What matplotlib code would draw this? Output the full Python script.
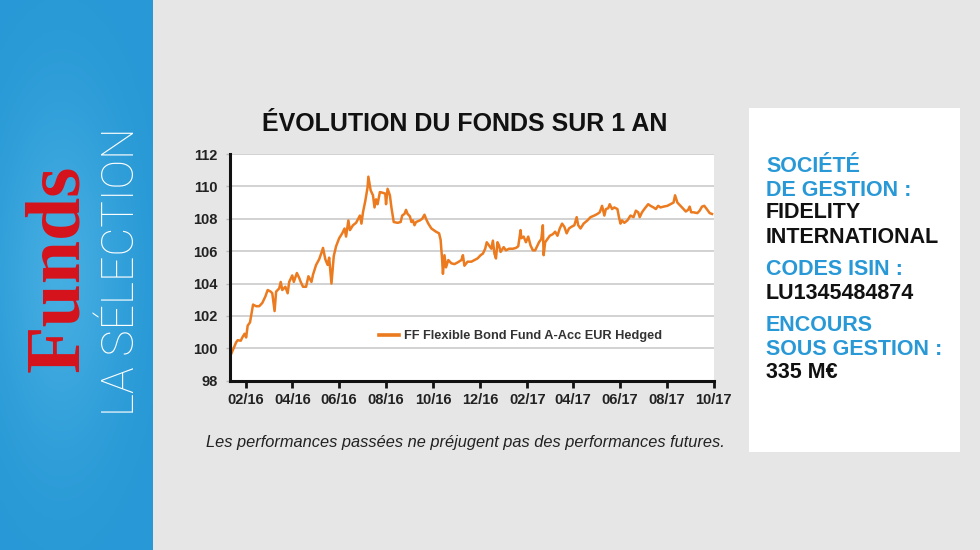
import numpy as np
import pandas as pd
import matplotlib
matplotlib.use("Agg")
import matplotlib.pyplot as plt
import matplotlib.dates as mdates
from matplotlib.patches import Rectangle
from matplotlib.colors import LinearSegmentedColormap

# data: days after 2016-01-11 and fund value
start = pd.Timestamp("2016-01-11")
day_offsets = [
    2, 8, 10, 14, 16, 19, 21, 23, 26, 29, 30, 34, 38, 42, 46, 49, 53, 55, 58, 60,
    64, 66, 68, 72, 75, 77, 81, 83, 87, 90, 92, 95, 99, 102, 106, 108, 112, 116, 119, 121,
    124, 127, 129, 132, 135, 138, 142, 146, 149, 151, 154, 156, 160, 164, 169, 171, 173, 176, 179, 180,
    183, 186, 188, 190, 192, 195, 199, 202, 203, 205, 208, 210, 213, 218, 222, 224, 227, 229, 231, 234,
    236, 238, 240, 242, 247, 250, 253, 255, 258, 262, 265, 268, 272, 274, 276, 277, 279, 281, 284, 288,
    292, 296, 301, 303, 305, 309, 314, 318, 322, 326, 329, 332, 334, 337, 340, 342, 344, 346, 348, 350,
    352, 356, 359, 363, 368, 372, 375, 378, 379, 382, 385, 388, 391, 394, 397, 400, 402, 405, 407, 408,
    410, 413, 416, 420, 423, 426, 429, 432, 435, 438, 441, 444, 448, 451, 453, 456, 460, 465, 469, 474,
    478, 481, 484, 487, 489, 492, 494, 497, 500, 504, 506, 508, 510, 513, 517, 521, 525, 528, 531, 533,
    536, 539, 544, 547, 551, 554, 557, 560, 564, 569, 573, 577, 579, 582, 586, 590, 593, 596, 598, 600,
    603, 608, 611, 614, 617, 621, 624, 627,
]
fund_values = [
    99.7, 100.37, 100.5, 100.47, 100.67, 100.9, 100.67, 101.4, 101.6, 102.4, 102.7, 102.6, 102.6, 102.8, 103.2, 103.6, 103.5, 103.4, 102.3, 103.5,
    103.7, 104.1, 103.6, 103.8, 103.4, 104.1, 104.5, 104.1, 104.65, 104.35, 104.1, 103.8, 103.8, 104.45, 104.1, 104.55, 105.15, 105.5, 105.9, 106.2,
    105.5, 105.15, 105.6, 104.0, 105.7, 106.3, 106.8, 107.1, 107.4, 106.9, 107.9, 107.3, 107.6, 107.75, 108.2, 107.7, 108.4, 109.1, 109.95, 110.6,
    109.75, 109.45, 108.7, 109.2, 108.9, 109.65, 109.6, 109.55, 108.9, 109.85, 109.45, 108.7, 107.8, 107.75, 107.8, 108.2, 108.3, 108.55, 108.3, 108.15,
    107.8, 107.9, 107.6, 107.8, 107.9, 108.0, 108.25, 108.0, 107.7, 107.4, 107.3, 107.2, 107.1, 106.7, 105.45, 104.6, 105.75, 105.0, 105.45, 105.25,
    105.2, 105.3, 105.45, 105.75, 105.1, 105.35, 105.35, 105.45, 105.55, 105.75, 105.85, 106.15, 106.55, 106.35, 106.15, 106.65, 105.85, 105.55, 106.55, 106.35,
    105.95, 106.25, 106.05, 106.15, 106.15, 106.2, 106.3, 107.3, 106.8, 106.9, 106.55, 106.9, 106.35, 106.05, 106.05, 106.35, 106.55, 106.75, 107.6, 105.75,
    106.55, 106.75, 106.95, 107.05, 107.2, 106.95, 107.4, 107.7, 107.5, 107.1, 107.4, 107.5, 107.6, 108.1, 107.6, 107.4, 107.7, 107.9, 108.1, 108.2,
    108.3, 108.4, 108.8, 108.2, 108.6, 108.65, 108.9, 108.6, 108.7, 108.6, 108.1, 107.7, 107.9, 107.75, 107.9, 108.2, 108.1, 108.5, 108.4, 108.1,
    108.4, 108.6, 108.9, 108.8, 108.7, 108.6, 108.8, 108.7, 108.75, 108.8, 108.9, 109.0, 109.45, 109.0, 108.8, 108.6, 108.45, 108.55, 108.75, 108.4,
    108.4, 108.35, 108.5, 108.75, 108.8, 108.55, 108.35, 108.3,
]
y_ticks = [98, 100, 102, 104, 106, 108, 110, 112]
series_name = "FF Flexible Bond Fund A-Acc EUR Hedged"

info_lines = [
    ("SOCIÉTÉ", "blue"), ("DE GESTION :", "blue"),
    ("FIDELITY", "black"), ("INTERNATIONAL", "black"),
    ("CODES ISIN :", "blue"), ("LU1345484874", "black"),
    ("ENCOURS", "blue"), ("SOUS GESTION :", "blue"), ("335 M€", "black"),
]
info_baselines = [171.7, 195.7, 218.3, 242.7, 275, 299.3, 331, 355, 378.3]

BLUE = "#2899d6"
ORANGE = "#ec7a1e"
SANS = ["Liberation Sans", "DejaVu Sans"]

W, H = 980, 550
fig = plt.figure(figsize=(9.8, 5.5), dpi=100, facecolor="#e6e6e6")

# left blue band with a soft glow behind the logo
band = fig.add_axes([0, 0, 152 / W, 1])
gx, gy = np.meshgrid(np.linspace(0, 1, 60), np.linspace(0, 1, 200))
glow = np.exp(-(((gx - 0.4) / 0.4) ** 2 + ((gy - 0.5) / 0.3) ** 2))
band_cmap = LinearSegmentedColormap.from_list("band", [BLUE, "#44ade1"])
band.imshow(glow, cmap=band_cmap, aspect="auto", extent=[0, 1, 0, 1])
band.axis("off")

fig.text(60 / W, 1 - 268 / H, "Funds", rotation=90, ha="center", va="center",
         family=["Liberation Serif", "DejaVu Serif"], fontweight="bold", fontsize=56, color="#d6121b")
fig.text(122 / W, 1 - 272 / H, "LA SÉLECTION", rotation=90, ha="center", va="center",
         family=["Roboto", "Lato", "DejaVu Sans"], fontweight="light", fontsize=32, color="white")

# white info box
fig.patches.append(Rectangle((749 / W, 1 - 451.7 / H), (960 - 749) / W, (451.7 - 108.3) / H,
                             transform=fig.transFigure, facecolor="white", edgecolor="none"))
for (txt, col), base in zip(info_lines, info_baselines):
    fig.text(766 / W, 1 - base / H, txt, ha="left", va="baseline", family=SANS,
             fontweight="bold", fontsize=15.5, color=BLUE if col == "blue" else "#111111")

# chart
fig.text(465 / W, 1 - 124 / H, "ÉVOLUTION DU FONDS SUR 1 AN", ha="center", va="center",
         family=SANS, fontweight="bold", fontsize=18, color="#111111")

ax = fig.add_axes([230 / W, 1 - 380.7 / H, (713.5 - 230) / W, (380.7 - 154) / H])
ax.set_facecolor("white")
dates = start + pd.to_timedelta(day_offsets, unit="D")
ax.plot(dates, fund_values, color=ORANGE, lw=1.8, label=series_name)

ax.set_xlim(start, pd.Timestamp("2017-10-01"))
ax.set_ylim(98, 112)
ax.set_yticks(y_ticks)
ax.grid(axis="y", color="#cfcfcf", lw=1.3)
ax.set_axisbelow(True)
ax.xaxis.set_major_locator(mdates.MonthLocator(bymonth=[2, 4, 6, 8, 10, 12]))
ax.xaxis.set_major_formatter(mdates.DateFormatter("%m/%y"))

for side in ["top", "right"]:
    ax.spines[side].set_visible(False)
for side in ["left", "bottom"]:
    ax.spines[side].set_linewidth(2.2)
    ax.spines[side].set_color("#111111")
ax.tick_params(axis="x", length=5, width=2, color="#111111", pad=4)
ax.tick_params(axis="y", length=3, width=1, color="#bbbbbb", pad=6)
for lab in ax.get_xticklabels() + ax.get_yticklabels():
    lab.set_family(SANS)
    lab.set_fontweight("bold")
    lab.set_fontsize(10.5)
    lab.set_color("#222222")

leg = ax.legend(loc="center left", bbox_to_anchor=((379 - 230) / 483.5, 0.197), frameon=False,
                borderpad=0, borderaxespad=0, handlelength=1.6, handletextpad=0.35,
                prop={"family": SANS, "weight": "bold", "size": 9.2})
for t in leg.get_texts():
    t.set_color("#333333")
for h in leg.get_lines():
    h.set_linewidth(2.6)

fig.text(465 / W, 1 - 443 / H, "Les performances passées ne préjugent pas des performances futures.",
         ha="center", va="center", family=SANS, style="italic", fontsize=11.8, color="#222222")

fig.savefig("out.png", dpi=100, facecolor=fig.get_facecolor())
